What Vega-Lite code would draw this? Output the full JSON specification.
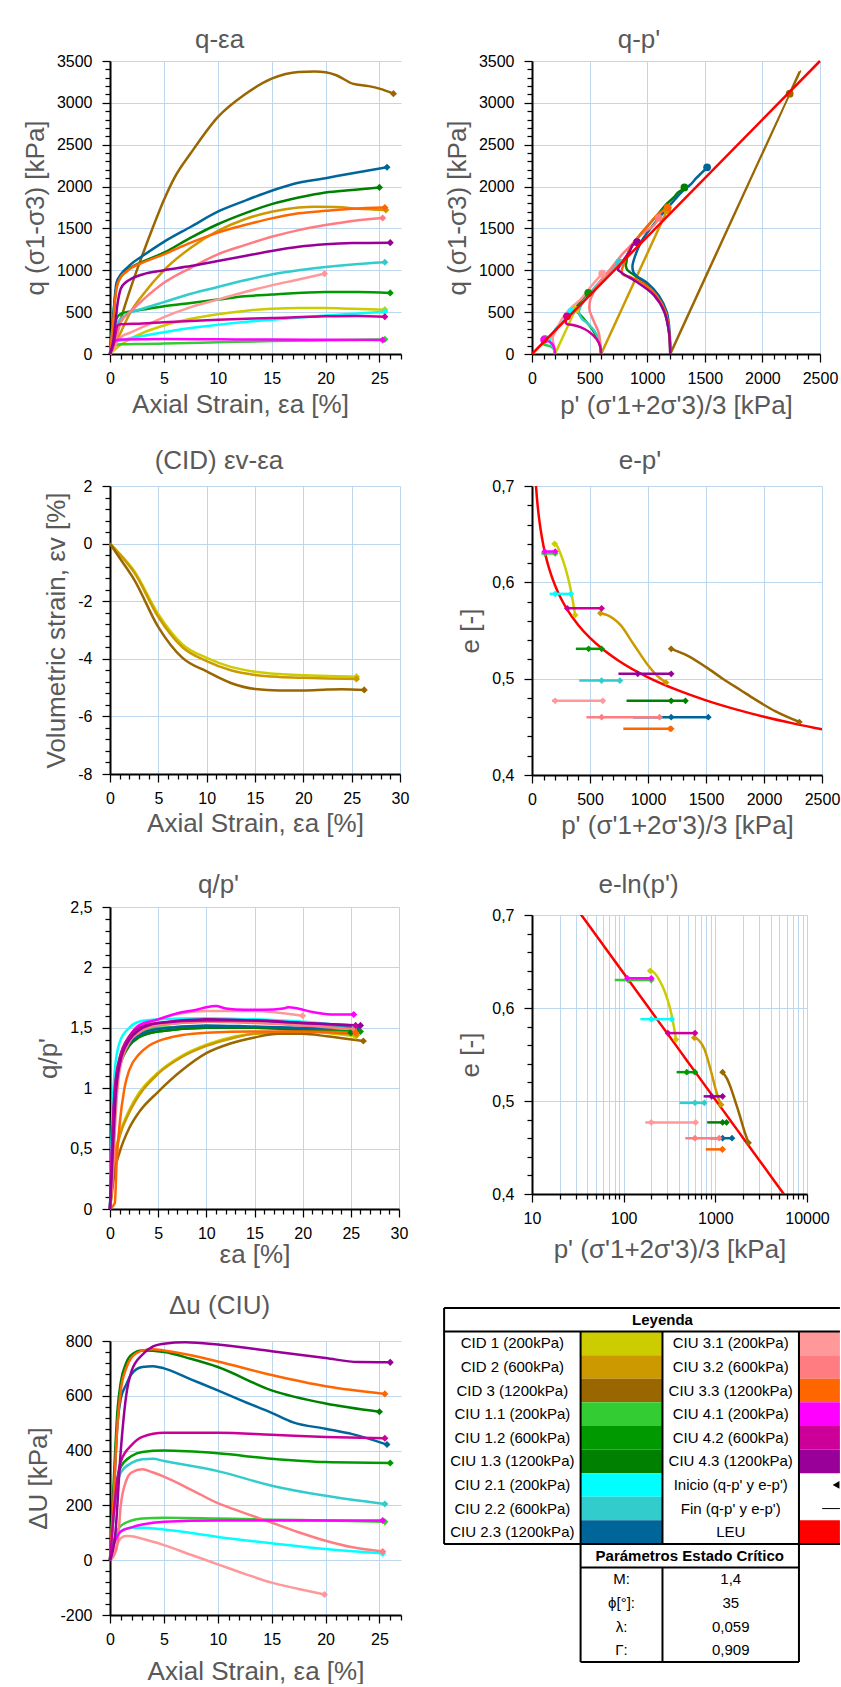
{
"$schema": "https://vega.github.io/schema/vega-lite/v6.json",
"background": "white",
"padding": {"left": 22, "top": 27, "right": 0, "bottom": 0},
"config": {
  "font": "Liberation Sans",
  "view": {"stroke": null},
  "title": {"font": "Liberation Sans", "fontSize": 26, "fontWeight": "normal", "color": "#595959", "anchor": "middle", "baseline": "bottom"},
  "axis": {"tickCount": 200, "labelFont": "Liberation Sans", "labelFontSize": 16, "labelColor": "#000000", "titleFont": "Liberation Sans", "titleFontSize": 26, "titleFontWeight": "normal", "titleColor": "#595959", "domainColor": "#000000", "domainWidth": 2, "tickColor": "#000000", "tickWidth": 1.25, "gridColor": "#BDD7EE", "gridWidth": 1, "labelOverlap": false, "labelFlush": false, "labelBound": false},
  "axisX": {"labelPadding": 8, "titlePadding": 5},
  "axisY": {"labelPadding": 10, "titlePadding": 8}
},
"datasets": {
"qe": [
{"s":"CID1","x":0,"y":0},{"s":"CID1","x":0.5,"y":60},{"s":"CID1","x":1,"y":110},{"s":"CID1","x":2,"y":190},{"s":"CID1","x":3,"y":250},{"s":"CID1","x":5,"y":340},{"s":"CID1","x":7.5,"y":420},{"s":"CID1","x":10,"y":475},{"s":"CID1","x":12.5,"y":515},{"s":"CID1","x":15,"y":540},{"s":"CID1","x":17.5,"y":550},{"s":"CID1","x":20,"y":550},{"s":"CID1","x":22.5,"y":540},{"s":"CID1","x":25.5,"y":530},
{"s":"CID2","x":0,"y":0},{"s":"CID2","x":0.5,"y":120},{"s":"CID2","x":1,"y":260},{"s":"CID2","x":2,"y":520},{"s":"CID2","x":3,"y":700},{"s":"CID2","x":5,"y":1000},{"s":"CID2","x":7.5,"y":1270},{"s":"CID2","x":10,"y":1470},{"s":"CID2","x":12.5,"y":1610},{"s":"CID2","x":15,"y":1700},{"s":"CID2","x":17.5,"y":1750},{"s":"CID2","x":19,"y":1760},{"s":"CID2","x":21,"y":1755},{"s":"CID2","x":23,"y":1735},{"s":"CID2","x":25.6,"y":1720},
{"s":"CID3","x":0,"y":0},{"s":"CID3","x":0.5,"y":210},{"s":"CID3","x":1,"y":420},{"s":"CID3","x":2,"y":820},{"s":"CID3","x":3,"y":1180},{"s":"CID3","x":4,"y":1520},{"s":"CID3","x":5,"y":1840},{"s":"CID3","x":6,"y":2110},{"s":"CID3","x":7.5,"y":2400},{"s":"CID3","x":10,"y":2830},{"s":"CID3","x":12.5,"y":3100},{"s":"CID3","x":15,"y":3290},{"s":"CID3","x":17.5,"y":3370},{"s":"CID3","x":19,"y":3375},{"s":"CID3","x":20,"y":3365},{"s":"CID3","x":21,"y":3330},{"s":"CID3","x":22.5,"y":3230},{"s":"CID3","x":24,"y":3200},{"s":"CID3","x":25,"y":3170},{"s":"CID3","x":26.3,"y":3110},
{"s":"CIU1.1","x":0,"y":0},{"s":"CIU1.1","x":0.3,"y":80},{"s":"CIU1.1","x":0.6,"y":110},{"s":"CIU1.1","x":1,"y":115},{"s":"CIU1.1","x":3,"y":120},{"s":"CIU1.1","x":5,"y":125},{"s":"CIU1.1","x":10,"y":140},{"s":"CIU1.1","x":15,"y":155},{"s":"CIU1.1","x":20,"y":165},{"s":"CIU1.1","x":25.5,"y":175},
{"s":"CIU1.2","x":0,"y":0},{"s":"CIU1.2","x":0.3,"y":250},{"s":"CIU1.2","x":0.6,"y":420},{"s":"CIU1.2","x":1,"y":480},{"s":"CIU1.2","x":2,"y":510},{"s":"CIU1.2","x":3,"y":530},{"s":"CIU1.2","x":5,"y":570},{"s":"CIU1.2","x":7.5,"y":610},{"s":"CIU1.2","x":10,"y":650},{"s":"CIU1.2","x":12.5,"y":690},{"s":"CIU1.2","x":15,"y":710},{"s":"CIU1.2","x":20,"y":740},{"s":"CIU1.2","x":23,"y":740},{"s":"CIU1.2","x":26,"y":730},
{"s":"CIU1.3","x":0,"y":0},{"s":"CIU1.3","x":0.3,"y":450},{"s":"CIU1.3","x":0.6,"y":800},{"s":"CIU1.3","x":1,"y":920},{"s":"CIU1.3","x":1.5,"y":990},{"s":"CIU1.3","x":2,"y":1040},{"s":"CIU1.3","x":3,"y":1100},{"s":"CIU1.3","x":5,"y":1210},{"s":"CIU1.3","x":7.5,"y":1390},{"s":"CIU1.3","x":10,"y":1550},{"s":"CIU1.3","x":12.5,"y":1680},{"s":"CIU1.3","x":15,"y":1790},{"s":"CIU1.3","x":17.5,"y":1870},{"s":"CIU1.3","x":20,"y":1930},{"s":"CIU1.3","x":22.5,"y":1960},{"s":"CIU1.3","x":25,"y":1990},
{"s":"CIU2.1","x":0,"y":0},{"s":"CIU2.1","x":0.3,"y":100},{"s":"CIU2.1","x":0.7,"y":150},{"s":"CIU2.1","x":1,"y":160},{"s":"CIU2.1","x":2,"y":190},{"s":"CIU2.1","x":3,"y":215},{"s":"CIU2.1","x":5,"y":260},{"s":"CIU2.1","x":7.5,"y":310},{"s":"CIU2.1","x":10,"y":350},{"s":"CIU2.1","x":15,"y":410},{"s":"CIU2.1","x":20,"y":460},{"s":"CIU2.1","x":25.5,"y":505},
{"s":"CIU2.2","x":0,"y":0},{"s":"CIU2.2","x":0.3,"y":200},{"s":"CIU2.2","x":0.7,"y":370},{"s":"CIU2.2","x":1,"y":420},{"s":"CIU2.2","x":2,"y":500},{"s":"CIU2.2","x":3,"y":540},{"s":"CIU2.2","x":5,"y":620},{"s":"CIU2.2","x":7.5,"y":720},{"s":"CIU2.2","x":10,"y":800},{"s":"CIU2.2","x":12.5,"y":880},{"s":"CIU2.2","x":15,"y":950},{"s":"CIU2.2","x":17.5,"y":1000},{"s":"CIU2.2","x":20,"y":1040},{"s":"CIU2.2","x":22.5,"y":1070},{"s":"CIU2.2","x":25.5,"y":1095},
{"s":"CIU2.3","x":0,"y":0},{"s":"CIU2.3","x":0.3,"y":450},{"s":"CIU2.3","x":0.6,"y":850},{"s":"CIU2.3","x":1,"y":950},{"s":"CIU2.3","x":1.5,"y":1020},{"s":"CIU2.3","x":2,"y":1080},{"s":"CIU2.3","x":3,"y":1170},{"s":"CIU2.3","x":5,"y":1340},{"s":"CIU2.3","x":7.5,"y":1520},{"s":"CIU2.3","x":10,"y":1700},{"s":"CIU2.3","x":12.5,"y":1830},{"s":"CIU2.3","x":15,"y":1950},{"s":"CIU2.3","x":17,"y":2030},{"s":"CIU2.3","x":20,"y":2100},{"s":"CIU2.3","x":22.5,"y":2160},{"s":"CIU2.3","x":25.7,"y":2230},
{"s":"CIU3.1","x":0,"y":0},{"s":"CIU3.1","x":0.3,"y":60},{"s":"CIU3.1","x":0.7,"y":150},{"s":"CIU3.1","x":1,"y":200},{"s":"CIU3.1","x":2,"y":260},{"s":"CIU3.1","x":3,"y":320},{"s":"CIU3.1","x":5,"y":440},{"s":"CIU3.1","x":7.5,"y":560},{"s":"CIU3.1","x":10,"y":650},{"s":"CIU3.1","x":12.5,"y":740},{"s":"CIU3.1","x":15,"y":820},{"s":"CIU3.1","x":17.5,"y":890},{"s":"CIU3.1","x":19.9,"y":960},
{"s":"CIU3.2","x":0,"y":0},{"s":"CIU3.2","x":0.3,"y":80},{"s":"CIU3.2","x":0.7,"y":250},{"s":"CIU3.2","x":1,"y":380},{"s":"CIU3.2","x":2,"y":520},{"s":"CIU3.2","x":3,"y":640},{"s":"CIU3.2","x":5,"y":850},{"s":"CIU3.2","x":7.5,"y":1030},{"s":"CIU3.2","x":10,"y":1190},{"s":"CIU3.2","x":12.5,"y":1300},{"s":"CIU3.2","x":15,"y":1400},{"s":"CIU3.2","x":17.5,"y":1480},{"s":"CIU3.2","x":20,"y":1540},{"s":"CIU3.2","x":22.5,"y":1590},{"s":"CIU3.2","x":25.3,"y":1625},
{"s":"CIU3.3","x":0,"y":0},{"s":"CIU3.3","x":0.3,"y":400},{"s":"CIU3.3","x":0.6,"y":780},{"s":"CIU3.3","x":1,"y":920},{"s":"CIU3.3","x":1.5,"y":980},{"s":"CIU3.3","x":2,"y":1030},{"s":"CIU3.3","x":3,"y":1090},{"s":"CIU3.3","x":5,"y":1190},{"s":"CIU3.3","x":7.5,"y":1330},{"s":"CIU3.3","x":10,"y":1450},{"s":"CIU3.3","x":12.5,"y":1540},{"s":"CIU3.3","x":15,"y":1620},{"s":"CIU3.3","x":17.5,"y":1680},{"s":"CIU3.3","x":20,"y":1710},{"s":"CIU3.3","x":22.5,"y":1735},{"s":"CIU3.3","x":25.5,"y":1750},
{"s":"CIU4.1","x":0,"y":0},{"s":"CIU4.1","x":0.3,"y":120},{"s":"CIU4.1","x":0.6,"y":165},{"s":"CIU4.1","x":1,"y":172},{"s":"CIU4.1","x":5,"y":178},{"s":"CIU4.1","x":10,"y":175},{"s":"CIU4.1","x":15,"y":172},{"s":"CIU4.1","x":20,"y":170},{"s":"CIU4.1","x":25.3,"y":168},
{"s":"CIU4.2","x":0,"y":0},{"s":"CIU4.2","x":0.3,"y":100},{"s":"CIU4.2","x":0.7,"y":340},{"s":"CIU4.2","x":1,"y":355},{"s":"CIU4.2","x":3,"y":365},{"s":"CIU4.2","x":5,"y":380},{"s":"CIU4.2","x":10,"y":410},{"s":"CIU4.2","x":15,"y":430},{"s":"CIU4.2","x":20,"y":450},{"s":"CIU4.2","x":23,"y":455},{"s":"CIU4.2","x":25.5,"y":445},
{"s":"CIU4.3","x":0,"y":0},{"s":"CIU4.3","x":0.3,"y":150},{"s":"CIU4.3","x":0.7,"y":600},{"s":"CIU4.3","x":1,"y":780},{"s":"CIU4.3","x":1.5,"y":860},{"s":"CIU4.3","x":2,"y":900},{"s":"CIU4.3","x":3,"y":950},{"s":"CIU4.3","x":5,"y":1000},{"s":"CIU4.3","x":7.5,"y":1050},{"s":"CIU4.3","x":10,"y":1110},{"s":"CIU4.3","x":12.5,"y":1170},{"s":"CIU4.3","x":15,"y":1230},{"s":"CIU4.3","x":17.5,"y":1280},{"s":"CIU4.3","x":20,"y":1310},{"s":"CIU4.3","x":22.5,"y":1325},{"s":"CIU4.3","x":26,"y":1330}
],
"qp": [
{"s":"CID1","x":200,"y":0},{"s":"CID1","x":383,"y":550},{"s":"CID1","x":377,"y":530},
{"s":"CID2","x":600,"y":0},{"s":"CID2","x":1187,"y":1760},{"s":"CID2","x":1173,"y":1720},
{"s":"CID3","x":1200,"y":0},{"s":"CID3","x":2325,"y":3375},{"s":"CID3","x":2237,"y":3110},
{"s":"CIU1.1","x":200,"y":0},{"s":"CIU1.1","x":192,"y":50},{"s":"CIU1.1","x":170,"y":85},{"s":"CIU1.1","x":140,"y":100},{"s":"CIU1.1","x":110,"y":110},{"s":"CIU1.1","x":95,"y":118},{"s":"CIU1.1","x":92,"y":130},{"s":"CIU1.1","x":98,"y":150},{"s":"CIU1.1","x":106,"y":165},{"s":"CIU1.1","x":112,"y":180},
{"s":"CIU1.2","x":600,"y":0},{"s":"CIU1.2","x":580,"y":150},{"s":"CIU1.2","x":520,"y":300},{"s":"CIU1.2","x":450,"y":420},{"s":"CIU1.2","x":410,"y":480},{"s":"CIU1.2","x":385,"y":510},{"s":"CIU1.2","x":378,"y":530},{"s":"CIU1.2","x":390,"y":570},{"s":"CIU1.2","x":405,"y":600},{"s":"CIU1.2","x":432,"y":650},{"s":"CIU1.2","x":463,"y":700},{"s":"CIU1.2","x":489,"y":740},{"s":"CIU1.2","x":488,"y":730},
{"s":"CIU1.3","x":1200,"y":0},{"s":"CIU1.3","x":1190,"y":250},{"s":"CIU1.3","x":1150,"y":500},{"s":"CIU1.3","x":1080,"y":700},{"s":"CIU1.3","x":980,"y":850},{"s":"CIU1.3","x":880,"y":950},{"s":"CIU1.3","x":830,"y":1000},{"s":"CIU1.3","x":815,"y":1050},{"s":"CIU1.3","x":820,"y":1100},{"s":"CIU1.3","x":835,"y":1210},{"s":"CIU1.3","x":920,"y":1390},{"s":"CIU1.3","x":1017,"y":1550},{"s":"CIU1.3","x":1100,"y":1680},{"s":"CIU1.3","x":1167,"y":1790},{"s":"CIU1.3","x":1230,"y":1870},{"s":"CIU1.3","x":1268,"y":1930},{"s":"CIU1.3","x":1300,"y":1960},{"s":"CIU1.3","x":1323,"y":1990},
{"s":"CIU2.1","x":200,"y":0},{"s":"CIU2.1","x":192,"y":60},{"s":"CIU2.1","x":170,"y":110},{"s":"CIU2.1","x":155,"y":150},{"s":"CIU2.1","x":165,"y":200},{"s":"CIU2.1","x":205,"y":300},{"s":"CIU2.1","x":250,"y":370},{"s":"CIU2.1","x":300,"y":430},{"s":"CIU2.1","x":340,"y":505},
{"s":"CIU2.2","x":600,"y":0},{"s":"CIU2.2","x":585,"y":150},{"s":"CIU2.2","x":540,"y":280},{"s":"CIU2.2","x":470,"y":380},{"s":"CIU2.2","x":433,"y":420},{"s":"CIU2.2","x":407,"y":500},{"s":"CIU2.2","x":420,"y":560},{"s":"CIU2.2","x":435,"y":600},{"s":"CIU2.2","x":490,"y":700},{"s":"CIU2.2","x":547,"y":800},{"s":"CIU2.2","x":600,"y":880},{"s":"CIU2.2","x":650,"y":950},{"s":"CIU2.2","x":712,"y":1040},{"s":"CIU2.2","x":758,"y":1095},
{"s":"CIU2.3","x":1200,"y":0},{"s":"CIU2.3","x":1195,"y":250},{"s":"CIU2.3","x":1170,"y":500},{"s":"CIU2.3","x":1100,"y":700},{"s":"CIU2.3","x":1000,"y":850},{"s":"CIU2.3","x":910,"y":930},{"s":"CIU2.3","x":880,"y":980},{"s":"CIU2.3","x":872,"y":1050},{"s":"CIU2.3","x":890,"y":1150},{"s":"CIU2.3","x":947,"y":1340},{"s":"CIU2.3","x":1040,"y":1520},{"s":"CIU2.3","x":1147,"y":1700},{"s":"CIU2.3","x":1230,"y":1830},{"s":"CIU2.3","x":1310,"y":1950},{"s":"CIU2.3","x":1380,"y":2030},{"s":"CIU2.3","x":1425,"y":2100},{"s":"CIU2.3","x":1470,"y":2160},{"s":"CIU2.3","x":1520,"y":2230},
{"s":"CIU3.1","x":200,"y":0},{"s":"CIU3.1","x":190,"y":100},{"s":"CIU3.1","x":180,"y":200},{"s":"CIU3.1","x":215,"y":300},{"s":"CIU3.1","x":270,"y":440},{"s":"CIU3.1","x":345,"y":560},{"s":"CIU3.1","x":420,"y":650},{"s":"CIU3.1","x":520,"y":820},{"s":"CIU3.1","x":610,"y":960},
{"s":"CIU3.2","x":600,"y":0},{"s":"CIU3.2","x":595,"y":80},{"s":"CIU3.2","x":580,"y":250},{"s":"CIU3.2","x":540,"y":380},{"s":"CIU3.2","x":510,"y":480},{"s":"CIU3.2","x":500,"y":520},{"s":"CIU3.2","x":505,"y":640},{"s":"CIU3.2","x":583,"y":850},{"s":"CIU3.2","x":690,"y":1030},{"s":"CIU3.2","x":783,"y":1190},{"s":"CIU3.2","x":860,"y":1300},{"s":"CIU3.2","x":923,"y":1400},{"s":"CIU3.2","x":1000,"y":1480},{"s":"CIU3.2","x":1060,"y":1540},{"s":"CIU3.2","x":1100,"y":1625},
{"s":"CIU3.3","x":1200,"y":0},{"s":"CIU3.3","x":1192,"y":250},{"s":"CIU3.3","x":1160,"y":500},{"s":"CIU3.3","x":1080,"y":700},{"s":"CIU3.3","x":960,"y":850},{"s":"CIU3.3","x":850,"y":920},{"s":"CIU3.3","x":787,"y":950},{"s":"CIU3.3","x":780,"y":1000},{"s":"CIU3.3","x":790,"y":1050},{"s":"CIU3.3","x":828,"y":1190},{"s":"CIU3.3","x":885,"y":1330},{"s":"CIU3.3","x":953,"y":1450},{"s":"CIU3.3","x":1010,"y":1540},{"s":"CIU3.3","x":1060,"y":1620},{"s":"CIU3.3","x":1100,"y":1680},{"s":"CIU3.3","x":1135,"y":1710},{"s":"CIU3.3","x":1160,"y":1735},{"s":"CIU3.3","x":1178,"y":1750},
{"s":"CIU4.1","x":200,"y":0},{"s":"CIU4.1","x":195,"y":60},{"s":"CIU4.1","x":180,"y":110},{"s":"CIU4.1","x":160,"y":140},{"s":"CIU4.1","x":130,"y":160},{"s":"CIU4.1","x":115,"y":168},{"s":"CIU4.1","x":105,"y":170},
{"s":"CIU4.2","x":600,"y":0},{"s":"CIU4.2","x":590,"y":100},{"s":"CIU4.2","x":560,"y":180},{"s":"CIU4.2","x":500,"y":260},{"s":"CIU4.2","x":420,"y":320},{"s":"CIU4.2","x":340,"y":350},{"s":"CIU4.2","x":305,"y":358},{"s":"CIU4.2","x":295,"y":370},{"s":"CIU4.2","x":295,"y":400},{"s":"CIU4.2","x":300,"y":430},{"s":"CIU4.2","x":304,"y":450},
{"s":"CIU4.3","x":1200,"y":0},{"s":"CIU4.3","x":1190,"y":250},{"s":"CIU4.3","x":1150,"y":500},{"s":"CIU4.3","x":1060,"y":700},{"s":"CIU4.3","x":920,"y":850},{"s":"CIU4.3","x":800,"y":950},{"s":"CIU4.3","x":760,"y":990},{"s":"CIU4.3","x":745,"y":1010},{"s":"CIU4.3","x":760,"y":1050},{"s":"CIU4.3","x":787,"y":1110},{"s":"CIU4.3","x":820,"y":1170},{"s":"CIU4.3","x":850,"y":1230},{"s":"CIU4.3","x":872,"y":1300},{"s":"CIU4.3","x":890,"y":1320},{"s":"CIU4.3","x":912,"y":1335}
],
"ev": [
{"s":"CID1","x":0,"y":0},{"s":"CID1","x":1,"y":-0.35},{"s":"CID1","x":2.5,"y":-0.95},{"s":"CID1","x":5,"y":-2.45},{"s":"CID1","x":7.5,"y":-3.5},{"s":"CID1","x":10,"y":-3.97},{"s":"CID1","x":12.5,"y":-4.28},{"s":"CID1","x":15,"y":-4.45},{"s":"CID1","x":17.5,"y":-4.53},{"s":"CID1","x":20,"y":-4.57},{"s":"CID1","x":22.5,"y":-4.6},{"s":"CID1","x":25.5,"y":-4.62},
{"s":"CID2","x":0,"y":0},{"s":"CID2","x":1,"y":-0.37},{"s":"CID2","x":2.5,"y":-1.0},{"s":"CID2","x":5,"y":-2.55},{"s":"CID2","x":7.5,"y":-3.6},{"s":"CID2","x":10,"y":-4.08},{"s":"CID2","x":12.5,"y":-4.4},{"s":"CID2","x":15,"y":-4.56},{"s":"CID2","x":17.5,"y":-4.63},{"s":"CID2","x":20,"y":-4.66},{"s":"CID2","x":22.5,"y":-4.68},{"s":"CID2","x":25.5,"y":-4.7},
{"s":"CID3","x":0,"y":0},{"s":"CID3","x":1,"y":-0.5},{"s":"CID3","x":2.5,"y":-1.25},{"s":"CID3","x":5,"y":-2.9},{"s":"CID3","x":7.5,"y":-3.97},{"s":"CID3","x":10,"y":-4.44},{"s":"CID3","x":12.5,"y":-4.84},{"s":"CID3","x":15,"y":-5.05},{"s":"CID3","x":17.5,"y":-5.1},{"s":"CID3","x":20,"y":-5.1},{"s":"CID3","x":22.5,"y":-5.07},{"s":"CID3","x":24,"y":-5.06},{"s":"CID3","x":26.3,"y":-5.08}
],
"ep": [
{"s":"CID1","x":195,"y":0.640},{"s":"CID1","x":215,"y":0.638},{"s":"CID1","x":245,"y":0.630},{"s":"CID1","x":280,"y":0.618},{"s":"CID1","x":320,"y":0.600},{"s":"CID1","x":350,"y":0.582},{"s":"CID1","x":372,"y":0.566},
{"s":"CID2","x":590,"y":0.568},{"s":"CID2","x":650,"y":0.566},{"s":"CID2","x":760,"y":0.556},{"s":"CID2","x":880,"y":0.535},{"s":"CID2","x":1000,"y":0.514},{"s":"CID2","x":1080,"y":0.503},{"s":"CID2","x":1155,"y":0.496},
{"s":"CID3","x":1200,"y":0.531},{"s":"CID3","x":1340,"y":0.524},{"s":"CID3","x":1500,"y":0.512},{"s":"CID3","x":1644,"y":0.500},{"s":"CID3","x":1800,"y":0.488},{"s":"CID3","x":1917,"y":0.479},{"s":"CID3","x":2100,"y":0.466},{"s":"CID3","x":2305,"y":0.455},
{"s":"CIU1.1","x":200,"y":0.630},{"s":"CIU1.1","x":80,"y":0.630},{"s":"CIU1.1","x":112,"y":0.630},
{"s":"CIU1.2","x":600,"y":0.531},{"s":"CIU1.2","x":378,"y":0.531},{"s":"CIU1.2","x":488,"y":0.531},
{"s":"CIU1.3","x":1200,"y":0.477},{"s":"CIU1.3","x":815,"y":0.477},{"s":"CIU1.3","x":1323,"y":0.477},
{"s":"CIU2.1","x":200,"y":0.588},{"s":"CIU2.1","x":152,"y":0.588},{"s":"CIU2.1","x":335,"y":0.588},
{"s":"CIU2.2","x":600,"y":0.498},{"s":"CIU2.2","x":407,"y":0.498},{"s":"CIU2.2","x":758,"y":0.498},
{"s":"CIU2.3","x":1200,"y":0.460},{"s":"CIU2.3","x":872,"y":0.460},{"s":"CIU2.3","x":1520,"y":0.460},
{"s":"CIU3.1","x":200,"y":0.477},{"s":"CIU3.1","x":172,"y":0.477},{"s":"CIU3.1","x":610,"y":0.477},
{"s":"CIU3.2","x":600,"y":0.460},{"s":"CIU3.2","x":470,"y":0.460},{"s":"CIU3.2","x":1100,"y":0.460},
{"s":"CIU3.3","x":1200,"y":0.448},{"s":"CIU3.3","x":787,"y":0.448},{"s":"CIU3.3","x":1190,"y":0.448},
{"s":"CIU4.1","x":200,"y":0.632},{"s":"CIU4.1","x":110,"y":0.632},
{"s":"CIU4.2","x":600,"y":0.573},{"s":"CIU4.2","x":300,"y":0.573},{"s":"CIU4.2","x":304,"y":0.573},
{"s":"CIU4.3","x":1200,"y":0.505},{"s":"CIU4.3","x":745,"y":0.505},{"s":"CIU4.3","x":912,"y":0.505}
],
"csl": [
{"x":30,"y":0.7083},{"x":35,"y":0.6992},{"x":40,"y":0.6914},{"x":50,"y":0.6782},{"x":60,"y":0.6674},{"x":75,"y":0.6543},{"x":100,"y":0.6373},{"x":125,"y":0.6241},{"x":150,"y":0.6134},{"x":200,"y":0.5964},{"x":250,"y":0.5832},{"x":300,"y":0.5725},{"x":400,"y":0.5555},{"x":500,"y":0.5423},{"x":600,"y":0.5316},{"x":750,"y":0.5184},{"x":1000,"y":0.5014},{"x":1250,"y":0.4883},{"x":1500,"y":0.4775},{"x":1750,"y":0.4684},{"x":2000,"y":0.4605},{"x":2250,"y":0.4536},{"x":2500,"y":0.4474},{"x":3000,"y":0.4366},{"x":4000,"y":0.4197},{"x":5000,"y":0.4065},{"x":6000,"y":0.3957}
],
"qpr": [
{"s":"CID1","x":0,"y":0},{"s":"CID1","x":0.5,"y":0.45},{"s":"CID1","x":1,"y":0.62},{"s":"CID1","x":2,"y":0.82},{"s":"CID1","x":3,"y":0.96},{"s":"CID1","x":5,"y":1.13},{"s":"CID1","x":7.5,"y":1.27},{"s":"CID1","x":10,"y":1.36},{"s":"CID1","x":12.5,"y":1.42},{"s":"CID1","x":15,"y":1.45},{"s":"CID1","x":20,"y":1.47},{"s":"CID1","x":25.5,"y":1.43},
{"s":"CID2","x":0,"y":0},{"s":"CID2","x":0.5,"y":0.42},{"s":"CID2","x":1,"y":0.6},{"s":"CID2","x":2,"y":0.8},{"s":"CID2","x":3,"y":0.94},{"s":"CID2","x":5,"y":1.12},{"s":"CID2","x":7.5,"y":1.26},{"s":"CID2","x":10,"y":1.35},{"s":"CID2","x":12.5,"y":1.41},{"s":"CID2","x":15,"y":1.45},{"s":"CID2","x":20,"y":1.47},{"s":"CID2","x":25.6,"y":1.44},
{"s":"CID3","x":0,"y":0},{"s":"CID3","x":0.3,"y":0.2},{"s":"CID3","x":0.5,"y":0.32},{"s":"CID3","x":1,"y":0.47},{"s":"CID3","x":2,"y":0.67},{"s":"CID3","x":3,"y":0.8},{"s":"CID3","x":5,"y":0.97},{"s":"CID3","x":7.5,"y":1.15},{"s":"CID3","x":10,"y":1.29},{"s":"CID3","x":12.5,"y":1.37},{"s":"CID3","x":15,"y":1.42},{"s":"CID3","x":17.5,"y":1.45},{"s":"CID3","x":20,"y":1.45},{"s":"CID3","x":22.5,"y":1.43},{"s":"CID3","x":26.3,"y":1.39},
{"s":"CIU1.1","x":0,"y":0},{"s":"CIU1.1","x":0.2,"y":0.5},{"s":"CIU1.1","x":0.5,"y":1.0},{"s":"CIU1.1","x":1,"y":1.25},{"s":"CIU1.1","x":2,"y":1.4},{"s":"CIU1.1","x":3,"y":1.46},{"s":"CIU1.1","x":5,"y":1.5},{"s":"CIU1.1","x":10,"y":1.51},{"s":"CIU1.1","x":15,"y":1.5},{"s":"CIU1.1","x":20,"y":1.49},{"s":"CIU1.1","x":25.5,"y":1.46},
{"s":"CIU1.2","x":0,"y":0},{"s":"CIU1.2","x":0.2,"y":0.5},{"s":"CIU1.2","x":0.5,"y":1.0},{"s":"CIU1.2","x":1,"y":1.2},{"s":"CIU1.2","x":2,"y":1.37},{"s":"CIU1.2","x":3,"y":1.43},{"s":"CIU1.2","x":5,"y":1.47},{"s":"CIU1.2","x":10,"y":1.5},{"s":"CIU1.2","x":15,"y":1.5},{"s":"CIU1.2","x":20,"y":1.49},{"s":"CIU1.2","x":26,"y":1.47},
{"s":"CIU1.3","x":0,"y":0},{"s":"CIU1.3","x":0.2,"y":0.5},{"s":"CIU1.3","x":0.5,"y":1.0},{"s":"CIU1.3","x":1,"y":1.18},{"s":"CIU1.3","x":2,"y":1.35},{"s":"CIU1.3","x":3,"y":1.42},{"s":"CIU1.3","x":5,"y":1.47},{"s":"CIU1.3","x":10,"y":1.5},{"s":"CIU1.3","x":15,"y":1.5},{"s":"CIU1.3","x":20,"y":1.48},{"s":"CIU1.3","x":25,"y":1.46},
{"s":"CIU2.1","x":0,"y":0},{"s":"CIU2.1","x":0.2,"y":0.7},{"s":"CIU2.1","x":0.5,"y":1.15},{"s":"CIU2.1","x":1,"y":1.38},{"s":"CIU2.1","x":2,"y":1.5},{"s":"CIU2.1","x":3,"y":1.55},{"s":"CIU2.1","x":5,"y":1.57},{"s":"CIU2.1","x":10,"y":1.58},{"s":"CIU2.1","x":15,"y":1.57},{"s":"CIU2.1","x":20,"y":1.55},{"s":"CIU2.1","x":25.5,"y":1.51},
{"s":"CIU2.2","x":0,"y":0},{"s":"CIU2.2","x":0.2,"y":0.5},{"s":"CIU2.2","x":0.5,"y":1.0},{"s":"CIU2.2","x":1,"y":1.22},{"s":"CIU2.2","x":2,"y":1.4},{"s":"CIU2.2","x":3,"y":1.47},{"s":"CIU2.2","x":5,"y":1.52},{"s":"CIU2.2","x":10,"y":1.55},{"s":"CIU2.2","x":15,"y":1.55},{"s":"CIU2.2","x":20,"y":1.53},{"s":"CIU2.2","x":25.5,"y":1.51},
{"s":"CIU2.3","x":0,"y":0},{"s":"CIU2.3","x":0.2,"y":0.45},{"s":"CIU2.3","x":0.5,"y":0.95},{"s":"CIU2.3","x":1,"y":1.2},{"s":"CIU2.3","x":2,"y":1.37},{"s":"CIU2.3","x":3,"y":1.44},{"s":"CIU2.3","x":5,"y":1.49},{"s":"CIU2.3","x":10,"y":1.52},{"s":"CIU2.3","x":15,"y":1.51},{"s":"CIU2.3","x":20,"y":1.5},{"s":"CIU2.3","x":25.7,"y":1.5},
{"s":"CIU3.1","x":0,"y":0},{"s":"CIU3.1","x":0.2,"y":0.4},{"s":"CIU3.1","x":0.5,"y":0.9},{"s":"CIU3.1","x":1,"y":1.2},{"s":"CIU3.1","x":2,"y":1.42},{"s":"CIU3.1","x":3,"y":1.5},{"s":"CIU3.1","x":5,"y":1.57},{"s":"CIU3.1","x":7.5,"y":1.62},{"s":"CIU3.1","x":10,"y":1.64},{"s":"CIU3.1","x":15,"y":1.64},{"s":"CIU3.1","x":20,"y":1.6},
{"s":"CIU3.2","x":0,"y":0},{"s":"CIU3.2","x":0.3,"y":0.3},{"s":"CIU3.2","x":0.6,"y":0.8},{"s":"CIU3.2","x":1,"y":1.15},{"s":"CIU3.2","x":2,"y":1.38},{"s":"CIU3.2","x":3,"y":1.46},{"s":"CIU3.2","x":5,"y":1.52},{"s":"CIU3.2","x":10,"y":1.55},{"s":"CIU3.2","x":15,"y":1.54},{"s":"CIU3.2","x":20,"y":1.52},{"s":"CIU3.2","x":25.3,"y":1.49},
{"s":"CIU3.3","x":0,"y":0},{"s":"CIU3.3","x":0.5,"y":0.05},{"s":"CIU3.3","x":0.7,"y":0.4},{"s":"CIU3.3","x":1,"y":0.7},{"s":"CIU3.3","x":1.5,"y":1.0},{"s":"CIU3.3","x":2,"y":1.15},{"s":"CIU3.3","x":3,"y":1.28},{"s":"CIU3.3","x":4,"y":1.35},{"s":"CIU3.3","x":5,"y":1.39},{"s":"CIU3.3","x":7.5,"y":1.44},{"s":"CIU3.3","x":10,"y":1.46},{"s":"CIU3.3","x":15,"y":1.47},{"s":"CIU3.3","x":20,"y":1.47},{"s":"CIU3.3","x":25.5,"y":1.46},
{"s":"CIU4.1","x":0,"y":0},{"s":"CIU4.1","x":0.2,"y":0.5},{"s":"CIU4.1","x":0.5,"y":0.95},{"s":"CIU4.1","x":1,"y":1.2},{"s":"CIU4.1","x":2,"y":1.42},{"s":"CIU4.1","x":3,"y":1.52},{"s":"CIU4.1","x":5,"y":1.57},{"s":"CIU4.1","x":7,"y":1.62},{"s":"CIU4.1","x":9,"y":1.65},{"s":"CIU4.1","x":10,"y":1.67},{"s":"CIU4.1","x":11,"y":1.68},{"s":"CIU4.1","x":12,"y":1.66},{"s":"CIU4.1","x":14,"y":1.65},{"s":"CIU4.1","x":16,"y":1.65},{"s":"CIU4.1","x":18,"y":1.66},{"s":"CIU4.1","x":18.5,"y":1.67},{"s":"CIU4.1","x":19.5,"y":1.66},{"s":"CIU4.1","x":21,"y":1.63},{"s":"CIU4.1","x":23,"y":1.61},{"s":"CIU4.1","x":25.3,"y":1.61},
{"s":"CIU4.2","x":0,"y":0},{"s":"CIU4.2","x":0.2,"y":0.5},{"s":"CIU4.2","x":0.5,"y":1.0},{"s":"CIU4.2","x":1,"y":1.25},{"s":"CIU4.2","x":2,"y":1.43},{"s":"CIU4.2","x":3,"y":1.5},{"s":"CIU4.2","x":5,"y":1.54},{"s":"CIU4.2","x":10,"y":1.56},{"s":"CIU4.2","x":15,"y":1.56},{"s":"CIU4.2","x":20,"y":1.54},{"s":"CIU4.2","x":25.5,"y":1.52},
{"s":"CIU4.3","x":0,"y":0},{"s":"CIU4.3","x":0.3,"y":0.5},{"s":"CIU4.3","x":0.6,"y":0.95},{"s":"CIU4.3","x":1,"y":1.2},{"s":"CIU4.3","x":2,"y":1.4},{"s":"CIU4.3","x":3,"y":1.48},{"s":"CIU4.3","x":5,"y":1.54},{"s":"CIU4.3","x":10,"y":1.57},{"s":"CIU4.3","x":15,"y":1.56},{"s":"CIU4.3","x":20,"y":1.54},{"s":"CIU4.3","x":26,"y":1.52}
],
"du": [
{"s":"CIU1.1","x":0,"y":0},{"s":"CIU1.1","x":0.3,"y":60},{"s":"CIU1.1","x":0.7,"y":110},{"s":"CIU1.1","x":1,"y":125},{"s":"CIU1.1","x":2,"y":145},{"s":"CIU1.1","x":3,"y":152},{"s":"CIU1.1","x":5,"y":155},{"s":"CIU1.1","x":10,"y":152},{"s":"CIU1.1","x":15,"y":148},{"s":"CIU1.1","x":20,"y":145},{"s":"CIU1.1","x":25.5,"y":140},
{"s":"CIU1.2","x":0,"y":0},{"s":"CIU1.2","x":0.3,"y":150},{"s":"CIU1.2","x":0.7,"y":300},{"s":"CIU1.2","x":1,"y":340},{"s":"CIU1.2","x":2,"y":380},{"s":"CIU1.2","x":3,"y":395},{"s":"CIU1.2","x":5,"y":400},{"s":"CIU1.2","x":10,"y":390},{"s":"CIU1.2","x":15,"y":370},{"s":"CIU1.2","x":20,"y":358},{"s":"CIU1.2","x":26,"y":355},
{"s":"CIU1.3","x":0,"y":0},{"s":"CIU1.3","x":0.3,"y":250},{"s":"CIU1.3","x":0.7,"y":550},{"s":"CIU1.3","x":1,"y":650},{"s":"CIU1.3","x":1.5,"y":720},{"s":"CIU1.3","x":2,"y":750},{"s":"CIU1.3","x":3,"y":765},{"s":"CIU1.3","x":5,"y":760},{"s":"CIU1.3","x":7.5,"y":735},{"s":"CIU1.3","x":10,"y":705},{"s":"CIU1.3","x":15,"y":620},{"s":"CIU1.3","x":20,"y":572},{"s":"CIU1.3","x":25,"y":542},
{"s":"CIU2.1","x":0,"y":0},{"s":"CIU2.1","x":0.3,"y":50},{"s":"CIU2.1","x":0.7,"y":95},{"s":"CIU2.1","x":1,"y":105},{"s":"CIU2.1","x":2,"y":118},{"s":"CIU2.1","x":3,"y":118},{"s":"CIU2.1","x":5,"y":112},{"s":"CIU2.1","x":10,"y":85},{"s":"CIU2.1","x":15,"y":62},{"s":"CIU2.1","x":20,"y":41},{"s":"CIU2.1","x":25.3,"y":25},
{"s":"CIU2.2","x":0,"y":0},{"s":"CIU2.2","x":0.3,"y":150},{"s":"CIU2.2","x":0.7,"y":280},{"s":"CIU2.2","x":1,"y":320},{"s":"CIU2.2","x":2,"y":355},{"s":"CIU2.2","x":3,"y":368},{"s":"CIU2.2","x":4,"y":370},{"s":"CIU2.2","x":5,"y":362},{"s":"CIU2.2","x":10,"y":325},{"s":"CIU2.2","x":15,"y":272},{"s":"CIU2.2","x":20,"y":235},{"s":"CIU2.2","x":25.5,"y":205},
{"s":"CIU2.3","x":0,"y":0},{"s":"CIU2.3","x":0.3,"y":200},{"s":"CIU2.3","x":0.7,"y":500},{"s":"CIU2.3","x":1,"y":590},{"s":"CIU2.3","x":1.5,"y":640},{"s":"CIU2.3","x":2,"y":680},{"s":"CIU2.3","x":3,"y":705},{"s":"CIU2.3","x":4,"y":708},{"s":"CIU2.3","x":5,"y":700},{"s":"CIU2.3","x":7.5,"y":660},{"s":"CIU2.3","x":10,"y":620},{"s":"CIU2.3","x":12.5,"y":578},{"s":"CIU2.3","x":15,"y":538},{"s":"CIU2.3","x":17,"y":503},{"s":"CIU2.3","x":20,"y":480},{"s":"CIU2.3","x":22.5,"y":460},{"s":"CIU2.3","x":25.7,"y":422},
{"s":"CIU3.1","x":0,"y":0},{"s":"CIU3.1","x":0.3,"y":30},{"s":"CIU3.1","x":0.7,"y":62},{"s":"CIU3.1","x":1,"y":80},{"s":"CIU3.1","x":1.5,"y":88},{"s":"CIU3.1","x":2,"y":87},{"s":"CIU3.1","x":3,"y":78},{"s":"CIU3.1","x":5,"y":55},{"s":"CIU3.1","x":7.5,"y":20},{"s":"CIU3.1","x":10,"y":-15},{"s":"CIU3.1","x":12.5,"y":-50},{"s":"CIU3.1","x":15,"y":-82},{"s":"CIU3.1","x":17.5,"y":-105},{"s":"CIU3.1","x":19.9,"y":-125},
{"s":"CIU3.2","x":0,"y":0},{"s":"CIU3.2","x":0.4,"y":20},{"s":"CIU3.2","x":0.7,"y":60},{"s":"CIU3.2","x":1,"y":200},{"s":"CIU3.2","x":1.5,"y":290},{"s":"CIU3.2","x":2,"y":320},{"s":"CIU3.2","x":3,"y":332},{"s":"CIU3.2","x":4,"y":320},{"s":"CIU3.2","x":5,"y":305},{"s":"CIU3.2","x":7.5,"y":258},{"s":"CIU3.2","x":10,"y":208},{"s":"CIU3.2","x":12.5,"y":172},{"s":"CIU3.2","x":15,"y":137},{"s":"CIU3.2","x":17.5,"y":102},{"s":"CIU3.2","x":20,"y":71},{"s":"CIU3.2","x":22.5,"y":47},{"s":"CIU3.2","x":25.3,"y":32},
{"s":"CIU3.3","x":0,"y":0},{"s":"CIU3.3","x":0.3,"y":200},{"s":"CIU3.3","x":0.7,"y":500},{"s":"CIU3.3","x":1,"y":620},{"s":"CIU3.3","x":1.5,"y":700},{"s":"CIU3.3","x":2,"y":740},{"s":"CIU3.3","x":3,"y":765},{"s":"CIU3.3","x":4,"y":770},{"s":"CIU3.3","x":5,"y":765},{"s":"CIU3.3","x":7.5,"y":748},{"s":"CIU3.3","x":10,"y":725},{"s":"CIU3.3","x":15,"y":676},{"s":"CIU3.3","x":20,"y":635},{"s":"CIU3.3","x":25.5,"y":607},
{"s":"CIU4.1","x":0,"y":0},{"s":"CIU4.1","x":0.3,"y":50},{"s":"CIU4.1","x":0.7,"y":90},{"s":"CIU4.1","x":1,"y":105},{"s":"CIU4.1","x":2,"y":120},{"s":"CIU4.1","x":3,"y":130},{"s":"CIU4.1","x":5,"y":140},{"s":"CIU4.1","x":10,"y":145},{"s":"CIU4.1","x":15,"y":145},{"s":"CIU4.1","x":20,"y":145},{"s":"CIU4.1","x":25.3,"y":145},
{"s":"CIU4.2","x":0,"y":0},{"s":"CIU4.2","x":0.3,"y":150},{"s":"CIU4.2","x":0.7,"y":300},{"s":"CIU4.2","x":1,"y":360},{"s":"CIU4.2","x":2,"y":420},{"s":"CIU4.2","x":3,"y":450},{"s":"CIU4.2","x":5,"y":465},{"s":"CIU4.2","x":10,"y":465},{"s":"CIU4.2","x":15,"y":458},{"s":"CIU4.2","x":20,"y":450},{"s":"CIU4.2","x":25.5,"y":445},
{"s":"CIU4.3","x":0,"y":0},{"s":"CIU4.3","x":0.5,"y":100},{"s":"CIU4.3","x":1,"y":400},{"s":"CIU4.3","x":1.5,"y":600},{"s":"CIU4.3","x":2,"y":690},{"s":"CIU4.3","x":3,"y":750},{"s":"CIU4.3","x":4,"y":780},{"s":"CIU4.3","x":5,"y":790},{"s":"CIU4.3","x":7,"y":795},{"s":"CIU4.3","x":10,"y":787},{"s":"CIU4.3","x":15,"y":763},{"s":"CIU4.3","x":20,"y":738},{"s":"CIU4.3","x":23,"y":723},{"s":"CIU4.3","x":26,"y":722}
]
},
"columns": 2,
"spacing": {"row": 132, "column": 131},
"bounds": "flush",
"align": "each",
"concat": [
{
 "width": 291, "height": 293,
 "title": {"text": "q-εa", "dx": -36, "offset": 0},
 "layer": [
  {"data": {"name": "qe"}, "mark": {"type": "line", "strokeWidth": 2.5, "interpolate": "monotone"},
   "encoding": {
    "x": {"field": "x", "type": "quantitative", "scale": {"domain": [0, 27], "nice": false, "zero": false},
     "axis": {"title": "Axial Strain, εa [%]", "tickCount": 200, "titleX": 130, "titlePadding": 5, "values": [0,1,2,3,4,5,6,7,8,9,10,11,12,13,14,15,16,17,18,19,20,21,22,23,24,25,26,27], "labelExpr": "indexof([0,5,10,15,20,25],datum.value)>=0?toString(datum.value):''", "tickSize": {"condition": {"test": "indexof([0,5,10,15,20,25],datum.value)>=0", "value": 8}, "value": 5}, "gridOpacity": {"condition": {"test": "indexof([0,5,10,15,20,25],datum.value)>=0", "value": 1}, "value": 0}}},
    "y": {"field": "y", "type": "quantitative", "scale": {"domain": [0, 3500], "nice": false},
     "axis": {"title": "q (σ1-σ3) [kPa]", "tickCount": 200, "values": [0,100,200,300,400,500,600,700,800,900,1000,1100,1200,1300,1400,1500,1600,1700,1800,1900,2000,2100,2200,2300,2400,2500,2600,2700,2800,2900,3000,3100,3200,3300,3400,3500], "labelExpr": "datum.value%500==0?toString(datum.value):''", "tickSize": {"condition": {"test": "datum.value%500==0", "value": 8}, "value": 5}, "gridOpacity": {"condition": {"test": "datum.value%500==0", "value": 1}, "value": 0}}},
    "color": {"field": "s", "type": "nominal", "legend": null, "scale": {"domain":["CID1","CID2","CID3","CIU1.1","CIU1.2","CIU1.3","CIU2.1","CIU2.2","CIU2.3","CIU3.1","CIU3.2","CIU3.3","CIU4.1","CIU4.2","CIU4.3"],"range":["#CCCC00","#CC9900","#996600","#33CC33","#009900","#008000","#00FFFF","#33CCCC","#006699","#FF9999","#FF7C80","#FF6600","#FF00FF","#CC0099","#990099"]}}
   }},
  {"data": {"name": "qe"},
   "transform": [{"window": [{"op": "row_number", "as": "i"}], "groupby": ["s"]}, {"joinaggregate": [{"op": "max", "field": "i", "as": "n"}], "groupby": ["s"]}, {"filter": "datum.i == datum.n"}],
   "mark": {"type": "point", "shape": "diamond", "filled": true, "size": 50, "opacity": 1},
   "encoding": {
    "x": {"field": "x", "type": "quantitative"},
    "y": {"field": "y", "type": "quantitative"},
    "color": {"field": "s", "type": "nominal", "legend": null, "scale": {"domain":["CID1","CID2","CID3","CIU1.1","CIU1.2","CIU1.3","CIU2.1","CIU2.2","CIU2.3","CIU3.1","CIU3.2","CIU3.3","CIU4.1","CIU4.2","CIU4.3"],"range":["#CCCC00","#CC9900","#996600","#33CC33","#009900","#008000","#00FFFF","#33CCCC","#006699","#FF9999","#FF7C80","#FF6600","#FF00FF","#CC0099","#990099"]}}
   }}
 ]
},
{
 "width": 288, "height": 293,
 "title": {"text": "q-p'", "dx": -37, "offset": 0},
 "layer": [
  {"data": {"name": "qp"}, "mark": {"type": "line", "strokeWidth": 2.5, "interpolate": "catmull-rom"},
   "encoding": {
    "x": {"field": "x", "type": "quantitative", "scale": {"domain": [0, 2500], "nice": false, "zero": false},
     "axis": {"title": "p' (σ'1+2σ'3)/3 [kPa]", "tickCount": 200, "titlePadding": 6, "values": [0,100,200,300,400,500,600,700,800,900,1000,1100,1200,1300,1400,1500,1600,1700,1800,1900,2000,2100,2200,2300,2400,2500], "labelExpr": "datum.value%500==0?toString(datum.value):''", "tickSize": {"condition": {"test": "datum.value%500==0", "value": 8}, "value": 5}, "gridOpacity": {"condition": {"test": "datum.value%500==0", "value": 1}, "value": 0}}},
    "y": {"field": "y", "type": "quantitative", "scale": {"domain": [0, 3500], "nice": false},
     "axis": {"title": "q (σ1-σ3) [kPa]", "tickCount": 200, "values": [0,100,200,300,400,500,600,700,800,900,1000,1100,1200,1300,1400,1500,1600,1700,1800,1900,2000,2100,2200,2300,2400,2500,2600,2700,2800,2900,3000,3100,3200,3300,3400,3500], "labelExpr": "datum.value%500==0?toString(datum.value):''", "tickSize": {"condition": {"test": "datum.value%500==0", "value": 8}, "value": 5}, "gridOpacity": {"condition": {"test": "datum.value%500==0", "value": 1}, "value": 0}}},
    "color": {"field": "s", "type": "nominal", "legend": null, "scale": {"domain":["CID1","CID2","CID3","CIU1.1","CIU1.2","CIU1.3","CIU2.1","CIU2.2","CIU2.3","CIU3.1","CIU3.2","CIU3.3","CIU4.1","CIU4.2","CIU4.3"],"range":["#CCCC00","#CC9900","#996600","#33CC33","#009900","#008000","#00FFFF","#33CCCC","#006699","#FF9999","#FF7C80","#FF6600","#FF00FF","#CC0099","#990099"]}},
    "order": {"value": null}
   }},
  {"data": {"name": "qp"},
   "transform": [{"window": [{"op": "row_number", "as": "i"}], "groupby": ["s"]}, {"joinaggregate": [{"op": "max", "field": "i", "as": "n"}], "groupby": ["s"]}, {"filter": "datum.i == datum.n"}],
   "mark": {"type": "point", "shape": "circle", "filled": true, "size": 60, "opacity": 1},
   "encoding": {
    "x": {"field": "x", "type": "quantitative"},
    "y": {"field": "y", "type": "quantitative"},
    "color": {"field": "s", "type": "nominal", "legend": null, "scale": {"domain":["CID1","CID2","CID3","CIU1.1","CIU1.2","CIU1.3","CIU2.1","CIU2.2","CIU2.3","CIU3.1","CIU3.2","CIU3.3","CIU4.1","CIU4.2","CIU4.3"],"range":["#CCCC00","#CC9900","#996600","#33CC33","#009900","#008000","#00FFFF","#33CCCC","#006699","#FF9999","#FF7C80","#FF6600","#FF00FF","#CC0099","#990099"]}}
   }},
  {"data": {"values": [{"x": 0, "y": 0}, {"x": 2500, "y": 3500}]},
   "mark": {"type": "line", "color": "#FF0000", "strokeWidth": 2.5},
   "encoding": {"x": {"field": "x", "type": "quantitative"}, "y": {"field": "y", "type": "quantitative"}}}
 ]
},
{
 "width": 290, "height": 288,
 "title": {"text": "(CID) εv-εa", "dx": -36, "offset": 4},
 "layer": [
  {"data": {"name": "ev"}, "mark": {"type": "line", "strokeWidth": 2.5, "interpolate": "monotone"},
   "encoding": {
    "x": {"field": "x", "type": "quantitative", "scale": {"domain": [0, 30], "nice": false, "zero": false},
     "axis": {"title": "Axial Strain, εa [%]", "tickCount": 200, "titlePadding": 4, "values": [0,1,2,3,4,5,6,7,8,9,10,11,12,13,14,15,16,17,18,19,20,21,22,23,24,25,26,27,28,29,30], "labelExpr": "datum.value%5==0?toString(datum.value):''", "tickSize": {"condition": {"test": "datum.value%5==0", "value": 8}, "value": 5}, "gridOpacity": {"condition": {"test": "datum.value%5==0", "value": 1}, "value": 0}}},
    "y": {"field": "y", "type": "quantitative", "scale": {"domain": [-8, 2], "nice": false, "zero": false},
     "axis": {"title": "Volumetric strain, εv [%]", "tickCount": 200, "values": [-8,-7.6,-7.2,-6.8,-6.4,-6,-5.6,-5.2,-4.8,-4.4,-4,-3.6,-3.2,-2.8,-2.4,-2,-1.6,-1.2,-0.8,-0.4,0,0.4,0.8,1.2,1.6,2], "labelExpr": "indexof([-8,-6,-4,-2,0,2],datum.value)>=0?toString(datum.value):''", "tickSize": {"condition": {"test": "indexof([-8,-6,-4,-2,0,2],datum.value)>=0", "value": 8}, "value": 5}, "gridOpacity": {"condition": {"test": "indexof([-8,-6,-4,-2,0,2],datum.value)>=0", "value": 1}, "value": 0}}},
    "color": {"field": "s", "type": "nominal", "legend": null, "scale": {"domain":["CID1","CID2","CID3","CIU1.1","CIU1.2","CIU1.3","CIU2.1","CIU2.2","CIU2.3","CIU3.1","CIU3.2","CIU3.3","CIU4.1","CIU4.2","CIU4.3"],"range":["#CCCC00","#CC9900","#996600","#33CC33","#009900","#008000","#00FFFF","#33CCCC","#006699","#FF9999","#FF7C80","#FF6600","#FF00FF","#CC0099","#990099"]}}
   }},
  {"data": {"name": "ev"},
   "transform": [{"window": [{"op": "row_number", "as": "i"}], "groupby": ["s"]}, {"joinaggregate": [{"op": "max", "field": "i", "as": "n"}], "groupby": ["s"]}, {"filter": "datum.i == datum.n"}],
   "mark": {"type": "point", "shape": "diamond", "filled": true, "size": 50, "opacity": 1},
   "encoding": {
    "x": {"field": "x", "type": "quantitative"},
    "y": {"field": "y", "type": "quantitative"},
    "color": {"field": "s", "type": "nominal", "legend": null, "scale": {"domain":["CID1","CID2","CID3","CIU1.1","CIU1.2","CIU1.3","CIU2.1","CIU2.2","CIU2.3","CIU3.1","CIU3.2","CIU3.3","CIU4.1","CIU4.2","CIU4.3"],"range":["#CCCC00","#CC9900","#996600","#33CC33","#009900","#008000","#00FFFF","#33CCCC","#006699","#FF9999","#FF7C80","#FF6600","#FF00FF","#CC0099","#990099"]}}
   }}
 ]
},
{
 "width": 290, "height": 289,
 "title": {"text": "e-p'", "dx": -37, "offset": 4},
 "layer": [
  {"data": {"name": "csl"}, "mark": {"type": "line", "color": "#FF0000", "strokeWidth": 2.5, "interpolate": "monotone", "clip": true},
   "encoding": {
    "x": {"field": "x", "type": "quantitative", "scale": {"domain": [0, 2500], "nice": false, "zero": false},
     "axis": {"title": "p' (σ'1+2σ'3)/3 [kPa]", "tickCount": 200, "titlePadding": 5, "values": [0,100,200,300,400,500,600,700,800,900,1000,1100,1200,1300,1400,1500,1600,1700,1800,1900,2000,2100,2200,2300,2400,2500], "labelExpr": "datum.value%500==0?toString(datum.value):''", "tickSize": {"condition": {"test": "datum.value%500==0", "value": 8}, "value": 5}, "gridOpacity": {"condition": {"test": "datum.value%500==0", "value": 1}, "value": 0}}},
    "y": {"field": "y", "type": "quantitative", "scale": {"domain": [0.4, 0.7], "nice": false, "zero": false},
     "axis": {"title": "e [-]", "tickCount": 200, "values": [0.4,0.42,0.44,0.46,0.48,0.5,0.52,0.54,0.56,0.58,0.6,0.62,0.64,0.66,0.68,0.7], "labelExpr": "indexof([0.4,0.5,0.6,0.7],datum.value)>=0?replace(toString(datum.value),'.',','):''", "tickSize": {"condition": {"test": "indexof([0.4,0.5,0.6,0.7],datum.value)>=0", "value": 8}, "value": 5}, "gridOpacity": {"condition": {"test": "indexof([0.4,0.5,0.6,0.7],datum.value)>=0", "value": 1}, "value": 0}}}
   }},
  {"data": {"name": "ep"}, "mark": {"type": "line", "strokeWidth": 2.5, "interpolate": "monotone"},
   "encoding": {
    "x": {"field": "x", "type": "quantitative"},
    "y": {"field": "y", "type": "quantitative"},
    "color": {"field": "s", "type": "nominal", "legend": null, "scale": {"domain":["CID1","CID2","CID3","CIU1.1","CIU1.2","CIU1.3","CIU2.1","CIU2.2","CIU2.3","CIU3.1","CIU3.2","CIU3.3","CIU4.1","CIU4.2","CIU4.3"],"range":["#CCCC00","#CC9900","#996600","#33CC33","#009900","#008000","#00FFFF","#33CCCC","#006699","#FF9999","#FF7C80","#FF6600","#FF00FF","#CC0099","#990099"]}}
   }},
  {"data": {"name": "ep"},
   "transform": [{"window": [{"op": "row_number", "as": "i"}], "groupby": ["s"]}, {"joinaggregate": [{"op": "max", "field": "i", "as": "n"}], "groupby": ["s"]}, {"filter": "datum.i == datum.n || datum.i == 1"}],
   "mark": {"type": "point", "shape": "diamond", "filled": true, "size": 45, "opacity": 1},
   "encoding": {
    "x": {"field": "x", "type": "quantitative"},
    "y": {"field": "y", "type": "quantitative"},
    "color": {"field": "s", "type": "nominal", "legend": null, "scale": {"domain":["CID1","CID2","CID3","CIU1.1","CIU1.2","CIU1.3","CIU2.1","CIU2.2","CIU2.3","CIU3.1","CIU3.2","CIU3.3","CIU4.1","CIU4.2","CIU4.3"],"range":["#CCCC00","#CC9900","#996600","#33CC33","#009900","#008000","#00FFFF","#33CCCC","#006699","#FF9999","#FF7C80","#FF6600","#FF00FF","#CC0099","#990099"]}}
   }}
 ]
},
{
 "width": 289, "height": 302,
 "title": {"text": "q/p'", "dx": -36, "offset": 1},
 "layer": [
  {"data": {"name": "qpr"}, "mark": {"type": "line", "strokeWidth": 2.5, "interpolate": "monotone"},
   "encoding": {
    "x": {"field": "x", "type": "quantitative", "scale": {"domain": [0, 30], "nice": false, "zero": false},
     "axis": {"title": "εa [%]", "tickCount": 200, "titlePadding": 0, "values": [0,1,2,3,4,5,6,7,8,9,10,11,12,13,14,15,16,17,18,19,20,21,22,23,24,25,26,27,28,29,30], "labelExpr": "datum.value%5==0?toString(datum.value):''", "tickSize": {"condition": {"test": "datum.value%5==0", "value": 8}, "value": 5}, "gridOpacity": {"condition": {"test": "datum.value%5==0", "value": 1}, "value": 0}}},
    "y": {"field": "y", "type": "quantitative", "scale": {"domain": [0, 2.5], "nice": false},
     "axis": {"title": "q/p'", "tickCount": 200, "values": [0,0.1,0.2,0.3,0.4,0.5,0.6,0.7,0.8,0.9,1,1.1,1.2,1.3,1.4,1.5,1.6,1.7,1.8,1.9,2,2.1,2.2,2.3,2.4,2.5], "labelExpr": "indexof([0,0.5,1,1.5,2,2.5],datum.value)>=0?replace(toString(datum.value),'.',','):''", "tickSize": {"condition": {"test": "indexof([0,0.5,1,1.5,2,2.5],datum.value)>=0", "value": 8}, "value": 5}, "gridOpacity": {"condition": {"test": "indexof([0,0.5,1,1.5,2,2.5],datum.value)>=0", "value": 1}, "value": 0}}},
    "color": {"field": "s", "type": "nominal", "legend": null, "scale": {"domain":["CID1","CID2","CID3","CIU1.1","CIU1.2","CIU1.3","CIU2.1","CIU2.2","CIU2.3","CIU3.1","CIU3.2","CIU3.3","CIU4.1","CIU4.2","CIU4.3"],"range":["#CCCC00","#CC9900","#996600","#33CC33","#009900","#008000","#00FFFF","#33CCCC","#006699","#FF9999","#FF7C80","#FF6600","#FF00FF","#CC0099","#990099"]}}
   }},
  {"data": {"name": "qpr"},
   "transform": [{"window": [{"op": "row_number", "as": "i"}], "groupby": ["s"]}, {"joinaggregate": [{"op": "max", "field": "i", "as": "n"}], "groupby": ["s"]}, {"filter": "datum.i == datum.n"}],
   "mark": {"type": "point", "shape": "diamond", "filled": true, "size": 50, "opacity": 1},
   "encoding": {
    "x": {"field": "x", "type": "quantitative"},
    "y": {"field": "y", "type": "quantitative"},
    "color": {"field": "s", "type": "nominal", "legend": null, "scale": {"domain":["CID1","CID2","CID3","CIU1.1","CIU1.2","CIU1.3","CIU2.1","CIU2.2","CIU2.3","CIU3.1","CIU3.2","CIU3.3","CIU4.1","CIU4.2","CIU4.3"],"range":["#CCCC00","#CC9900","#996600","#33CC33","#009900","#008000","#00FFFF","#33CCCC","#006699","#FF9999","#FF7C80","#FF6600","#FF00FF","#CC0099","#990099"]}}
   }}
 ]
},
{
 "vconcat": [
  {"width": 275, "height": 1, "data": {"values": []}, "mark": "point", "encoding": {}},
  {
   "width": 275, "height": 279,
   "title": {"text": "e-ln(p')", "dx": -31, "offset": 9},
   "layer": [
    {"data": {"name": "csl"}, "mark": {"type": "line", "color": "#FF0000", "strokeWidth": 2.5, "clip": true},
     "encoding": {
      "x": {"field": "x", "type": "quantitative", "scale": {"type": "log", "domain": [10, 10000], "nice": false},
       "axis": {"title": "p' (σ'1+2σ'3)/3 [kPa]", "tickCount": 200, "titlePadding": 10, "values": [10,20,30,40,50,60,70,80,90,100,200,300,400,500,600,700,800,900,1000,2000,3000,4000,5000,6000,7000,8000,9000,10000], "labelExpr": "indexof([10,100,1000,10000],datum.value)>=0?toString(datum.value):''", "tickSize": {"condition": {"test": "indexof([10,100,1000,10000],datum.value)>=0", "value": 8}, "value": 5}}},
      "y": {"field": "y", "type": "quantitative", "scale": {"domain": [0.4, 0.7], "nice": false, "zero": false},
       "axis": {"title": "e [-]", "tickCount": 200, "values": [0.4,0.42,0.44,0.46,0.48,0.5,0.52,0.54,0.56,0.58,0.6,0.62,0.64,0.66,0.68,0.7], "labelExpr": "indexof([0.4,0.5,0.6,0.7],datum.value)>=0?replace(toString(datum.value),'.',','):''", "tickSize": {"condition": {"test": "indexof([0.4,0.5,0.6,0.7],datum.value)>=0", "value": 8}, "value": 5}, "gridOpacity": {"condition": {"test": "indexof([0.4,0.5,0.6,0.7],datum.value)>=0", "value": 1}, "value": 0}}}
     }},
    {"data": {"name": "ep"}, "mark": {"type": "line", "strokeWidth": 2.5, "interpolate": "monotone"},
     "encoding": {
      "x": {"field": "x", "type": "quantitative"},
      "y": {"field": "y", "type": "quantitative"},
      "color": {"field": "s", "type": "nominal", "legend": null, "scale": {"domain":["CID1","CID2","CID3","CIU1.1","CIU1.2","CIU1.3","CIU2.1","CIU2.2","CIU2.3","CIU3.1","CIU3.2","CIU3.3","CIU4.1","CIU4.2","CIU4.3"],"range":["#CCCC00","#CC9900","#996600","#33CC33","#009900","#008000","#00FFFF","#33CCCC","#006699","#FF9999","#FF7C80","#FF6600","#FF00FF","#CC0099","#990099"]}}
     }},
    {"data": {"name": "ep"},
     "transform": [{"window": [{"op": "row_number", "as": "i"}], "groupby": ["s"]}, {"joinaggregate": [{"op": "max", "field": "i", "as": "n"}], "groupby": ["s"]}, {"filter": "datum.i == datum.n || datum.i == 1"}],
     "mark": {"type": "point", "shape": "diamond", "filled": true, "size": 45, "opacity": 1},
     "encoding": {
      "x": {"field": "x", "type": "quantitative"},
      "y": {"field": "y", "type": "quantitative"},
      "color": {"field": "s", "type": "nominal", "legend": null, "scale": {"domain":["CID1","CID2","CID3","CIU1.1","CIU1.2","CIU1.3","CIU2.1","CIU2.2","CIU2.3","CIU3.1","CIU3.2","CIU3.3","CIU4.1","CIU4.2","CIU4.3"],"range":["#CCCC00","#CC9900","#996600","#33CC33","#009900","#008000","#00FFFF","#33CCCC","#006699","#FF9999","#FF7C80","#FF6600","#FF00FF","#CC0099","#990099"]}}
     }}
   ]
  }
 ],
 "spacing": 7,
 "bounds": "flush"
},
{
 "width": 291, "height": 274,
 "title": {"text": "Δu (CIU)", "dx": -36, "offset": 14},
 "layer": [
  {"data": {"name": "du"}, "mark": {"type": "line", "strokeWidth": 2.5, "interpolate": "monotone"},
   "encoding": {
    "x": {"field": "x", "type": "quantitative", "scale": {"domain": [0, 27], "nice": false, "zero": false},
     "axis": {"title": "Axial Strain, εa [%]", "tickCount": 200, "titlePadding": 11, "values": [0,1,2,3,4,5,6,7,8,9,10,11,12,13,14,15,16,17,18,19,20,21,22,23,24,25,26,27], "labelExpr": "indexof([0,5,10,15,20,25],datum.value)>=0?toString(datum.value):''", "tickSize": {"condition": {"test": "indexof([0,5,10,15,20,25],datum.value)>=0", "value": 8}, "value": 5}, "gridOpacity": {"condition": {"test": "indexof([0,5,10,15,20,25],datum.value)>=0", "value": 1}, "value": 0}}},
    "y": {"field": "y", "type": "quantitative", "scale": {"domain": [-200, 800], "nice": false, "zero": false},
     "axis": {"title": "ΔU [kPa]", "tickCount": 200, "values": [-200,-160,-120,-80,-40,0,40,80,120,160,200,240,280,320,360,400,440,480,520,560,600,640,680,720,760,800], "labelExpr": "datum.value%200==0?toString(datum.value):''", "tickSize": {"condition": {"test": "datum.value%200==0", "value": 8}, "value": 5}, "gridOpacity": {"condition": {"test": "datum.value%200==0", "value": 1}, "value": 0}}},
    "color": {"field": "s", "type": "nominal", "legend": null, "scale": {"domain":["CID1","CID2","CID3","CIU1.1","CIU1.2","CIU1.3","CIU2.1","CIU2.2","CIU2.3","CIU3.1","CIU3.2","CIU3.3","CIU4.1","CIU4.2","CIU4.3"],"range":["#CCCC00","#CC9900","#996600","#33CC33","#009900","#008000","#00FFFF","#33CCCC","#006699","#FF9999","#FF7C80","#FF6600","#FF00FF","#CC0099","#990099"]}}
   }},
  {"data": {"name": "du"},
   "transform": [{"window": [{"op": "row_number", "as": "i"}], "groupby": ["s"]}, {"joinaggregate": [{"op": "max", "field": "i", "as": "n"}], "groupby": ["s"]}, {"filter": "datum.i == datum.n"}],
   "mark": {"type": "point", "shape": "diamond", "filled": true, "size": 50, "opacity": 1},
   "encoding": {
    "x": {"field": "x", "type": "quantitative"},
    "y": {"field": "y", "type": "quantitative"},
    "color": {"field": "s", "type": "nominal", "legend": null, "scale": {"domain":["CID1","CID2","CID3","CIU1.1","CIU1.2","CIU1.3","CIU2.1","CIU2.2","CIU2.3","CIU3.1","CIU3.2","CIU3.3","CIU4.1","CIU4.2","CIU4.3"],"range":["#CCCC00","#CC9900","#996600","#33CC33","#009900","#008000","#00FFFF","#33CCCC","#006699","#FF9999","#FF7C80","#FF6600","#FF00FF","#CC0099","#990099"]}}
   }}
 ]
},
{
 "width": 309, "height": 274,
 "layer": [
  {"data": {"values": [
    {"k":"CID1","a":5,"b":8,"r":1,"r2":2},{"k":"CID2","a":5,"b":8,"r":2,"r2":3},{"k":"CID3","a":5,"b":8,"r":3,"r2":4},
    {"k":"CIU1.1","a":5,"b":8,"r":4,"r2":5},{"k":"CIU1.2","a":5,"b":8,"r":5,"r2":6},{"k":"CIU1.3","a":5,"b":8,"r":6,"r2":7},
    {"k":"CIU2.1","a":5,"b":8,"r":7,"r2":8},{"k":"CIU2.2","a":5,"b":8,"r":8,"r2":9},{"k":"CIU2.3","a":5,"b":8,"r":9,"r2":10},
    {"k":"CIU3.1","a":13,"b":14.5,"r":1,"r2":2},{"k":"CIU3.2","a":13,"b":14.5,"r":2,"r2":3},{"k":"CIU3.3","a":13,"b":14.5,"r":3,"r2":4},
    {"k":"CIU4.1","a":13,"b":14.5,"r":4,"r2":5},{"k":"CIU4.2","a":13,"b":14.5,"r":5,"r2":6},{"k":"CIU4.3","a":13,"b":14.5,"r":6,"r2":7},
    {"k":"LEU","a":13,"b":14.5,"r":9,"r2":10}]},
   "mark": {"type": "rect"},
   "encoding": {
    "x": {"field": "a", "type": "quantitative", "scale": {"domain": [3.22, 14.54], "nice": false, "zero": false}, "axis": null},
    "x2": {"field": "b"},
    "y": {"field": "r", "type": "quantitative", "scale": {"domain": [1.4, 13.01], "nice": false, "zero": false, "reverse": true}, "axis": null},
    "y2": {"field": "r2"},
    "fill": {"field": "k", "type": "nominal", "legend": null, "scale": {"domain":["CID1","CID2","CID3","CIU1.1","CIU1.2","CIU1.3","CIU2.1","CIU2.2","CIU2.3","CIU3.1","CIU3.2","CIU3.3","CIU4.1","CIU4.2","CIU4.3","LEU"],"range":["#CCCC00","#CC9900","#996600","#33CC33","#009900","#008000","#00FFFF","#33CCCC","#006699","#FF9999","#FF7C80","#FF6600","#FF00FF","#CC0099","#990099","#FF0000"]}}
   }},
  {"data": {"values": [
    {"a":0,"b":14.5,"r":0,"r2":0},{"a":0,"b":14.5,"r":1,"r2":1},{"a":0,"b":14.5,"r":10,"r2":10},
    {"a":5,"b":13,"r":11,"r2":11},{"a":5,"b":13,"r":15,"r2":15},
    {"a":0,"b":0,"r":0,"r2":10},{"a":5,"b":5,"r":1,"r2":15},{"a":8,"b":8,"r":1,"r2":10},{"a":8,"b":8,"r":11,"r2":15},{"a":13,"b":13,"r":1,"r2":15}]},
   "mark": {"type": "rule", "color": "#000000", "strokeWidth": 2},
   "encoding": {
    "x": {"field": "a", "type": "quantitative"}, "x2": {"field": "b"},
    "y": {"field": "r", "type": "quantitative"}, "y2": {"field": "r2"}
   }},
  {"data": {"values": [{"a":13.85,"b":14.5,"r":8.5,"r2":8.5}]},
   "mark": {"type": "rule", "color": "#000000", "strokeWidth": 1},
   "encoding": {
    "x": {"field": "a", "type": "quantitative"}, "x2": {"field": "b"},
    "y": {"field": "r", "type": "quantitative"}, "y2": {"field": "r2"}
   }},
  {"data": {"values": [{"a":14.36,"r":7.5}]},
   "mark": {"type": "point", "shape": "triangle-left", "filled": true, "color": "#000000", "size": 60, "opacity": 1},
   "encoding": {
    "x": {"field": "a", "type": "quantitative"},
    "y": {"field": "r", "type": "quantitative"}
   }},
  {"data": {"values": [
    {"t":"CID 1 (200kPa)","c":2.5,"r":1.5},{"t":"CID 2 (600kPa)","c":2.5,"r":2.5},{"t":"CID 3 (1200kPa)","c":2.5,"r":3.5},
    {"t":"CIU 1.1 (200kPa)","c":2.5,"r":4.5},{"t":"CIU 1.2 (600kPa)","c":2.5,"r":5.5},{"t":"CIU 1.3 (1200kPa)","c":2.5,"r":6.5},
    {"t":"CIU 2.1 (200kPa)","c":2.5,"r":7.5},{"t":"CIU 2.2 (600kPa)","c":2.5,"r":8.5},{"t":"CIU 2.3 (1200kPa)","c":2.5,"r":9.5},
    {"t":"CIU 3.1 (200kPa)","c":10.5,"r":1.5},{"t":"CIU 3.2 (600kPa)","c":10.5,"r":2.5},{"t":"CIU 3.3 (1200kPa)","c":10.5,"r":3.5},
    {"t":"CIU 4.1 (200kPa)","c":10.5,"r":4.5},{"t":"CIU 4.2 (600kPa)","c":10.5,"r":5.5},{"t":"CIU 4.3 (1200kPa)","c":10.5,"r":6.5},
    {"t":"Inicio (q-p' y e-p')","c":10.5,"r":7.5},{"t":"Fin (q-p' y e-p')","c":10.5,"r":8.5},{"t":"LEU","c":10.5,"r":9.5},
    {"t":"M:","c":6.5,"r":11.5},{"t":"ϕ[°]:","c":6.5,"r":12.5},{"t":"λ:","c":6.5,"r":13.5},{"t":"Γ:","c":6.5,"r":14.5},
    {"t":"1,4","c":10.5,"r":11.5},{"t":"35","c":10.5,"r":12.5},{"t":"0,059","c":10.5,"r":13.5},{"t":"0,909","c":10.5,"r":14.5}]},
   "mark": {"type": "text", "font": "Liberation Sans", "fontSize": 15, "color": "#000000", "align": "center", "baseline": "middle"},
   "encoding": {
    "x": {"field": "c", "type": "quantitative"},
    "y": {"field": "r", "type": "quantitative"},
    "text": {"field": "t"}
   }},
  {"data": {"values": [{"t":"Leyenda","c":8,"r":0.5},{"t":"Parámetros Estado Crítico","c":9,"r":10.5}]},
   "mark": {"type": "text", "font": "Liberation Sans", "fontSize": 15, "fontWeight": "bold", "color": "#000000", "align": "center", "baseline": "middle"},
   "encoding": {
    "x": {"field": "c", "type": "quantitative"},
    "y": {"field": "r", "type": "quantitative"},
    "text": {"field": "t"}
   }}
 ]
}
]
}
